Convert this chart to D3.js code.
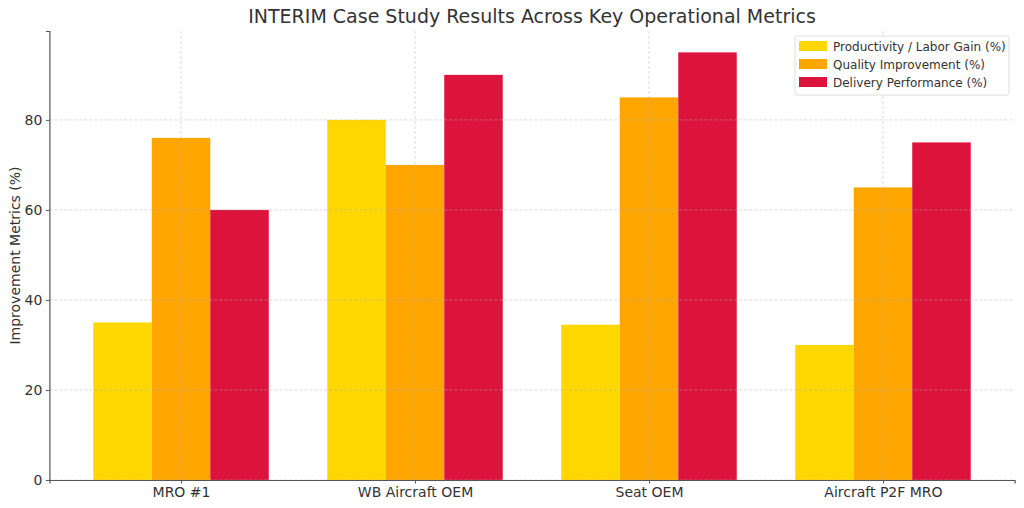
<!DOCTYPE html>
<html>
<head>
<meta charset="utf-8">
<script src="https://cdn.jsdelivr.net/npm/d3@7"></script>
<style>
  body { margin: 0; background: #fff; }
  text { font-family: "DejaVu Sans", sans-serif; }
</style>
</head>
<body>
<svg id="chart" width="1024" height="508"></svg>
<script>
const categories = ['MRO #1', 'WB Aircraft OEM', 'Seat OEM', 'Aircraft P2F MRO'];
const seriesNames = ['Productivity / Labor Gain (%)', 'Quality Improvement (%)', 'Delivery Performance (%)'];
const productivity = [35, 80, 34.5, 30];
const quality = [76, 70, 85, 65];
const delivery = [60, 90, 95, 75];
const yTicks = [0, 20, 40, 60, 80];
const colors = ['#FFD700', '#FFA500', '#DC143C'];

const seriesValues = [productivity, quality, delivery];

const svg = d3.select('#chart');
const margin = { top: 31, right: 9.4, bottom: 28, left: 49.4 };
const width = 1024 - margin.left - margin.right;
const height = 508 - margin.top - margin.bottom;
const g = svg.append('g').attr('transform', `translate(${margin.left},${margin.top})`);

// matplotlib style: bar width 0.25, margins 5%
const barW = 0.25;
const x = d3.scaleLinear().domain([-0.5625, categories.length - 1 + 0.5625]).range([0, width]);
const y = d3.scaleLinear().domain([0, 99.75]).range([height, 0]);

// bars
seriesValues.forEach((vals, si) => {
  g.selectAll('.bar-' + si)
    .data(vals)
    .enter()
    .append('rect')
    .attr('x', (d, i) => x(i + (si - 1) * barW - barW / 2))
    .attr('width', x(barW) - x(0))
    .attr('y', d => y(d))
    .attr('height', d => y(0) - y(d))
    .attr('fill', colors[si]);
});

// grid on top of bars
g.append('g')
  .selectAll('line')
  .data(yTicks)
  .enter().append('line')
  .attr('x1', 0).attr('x2', width)
  .attr('y1', d => y(d)).attr('y2', d => y(d))
  .attr('stroke', '#b0b0b0').attr('stroke-opacity', 0.6)
  .attr('stroke-dasharray', '3,2').attr('stroke-width', 0.8);

g.append('g')
  .selectAll('line')
  .data(categories)
  .enter().append('line')
  .attr('x1', (d, i) => x(i)).attr('x2', (d, i) => x(i))
  .attr('y1', 0).attr('y2', height)
  .attr('stroke', '#b0b0b0').attr('stroke-opacity', 0.6)
  .attr('stroke-dasharray', '3,2').attr('stroke-width', 0.8);

// axes
const yAxis = d3.axisLeft(y).tickValues(yTicks).tickSize(3.5).tickPadding(3.5);
g.append('g')
  .call(yAxis)
  .call(a => {
    a.select('.domain').attr('stroke', '#555').attr('stroke-width', 1.2);
    a.selectAll('.tick line').attr('stroke', '#555');
    a.selectAll('.tick text').attr('fill', '#333').attr('font-size', '14px')
      .attr('font-family', '"DejaVu Sans", sans-serif');
  });

const xAxis = d3.axisBottom(x).tickValues(d3.range(categories.length))
  .tickFormat(i => categories[i]).tickSize(3.5).tickPadding(3.5);
g.append('g')
  .attr('transform', `translate(0,${height})`)
  .call(xAxis)
  .call(a => {
    a.select('.domain').attr('stroke', '#555').attr('stroke-width', 1.2);
    a.selectAll('.tick line').attr('stroke', '#555');
    a.selectAll('.tick text').attr('fill', '#333').attr('font-size', '14px')
      .attr('font-family', '"DejaVu Sans", sans-serif');
  });

// title
svg.append('text')
  .attr('x', margin.left + width / 2)
  .attr('y', 23)
  .attr('text-anchor', 'middle')
  .attr('font-size', '19px')
  .attr('fill', '#333')
  .text('INTERIM Case Study Results Across Key Operational Metrics');

// y label
svg.append('text')
  .attr('transform', `translate(20,${margin.top + height / 2}) rotate(-90)`)
  .attr('text-anchor', 'middle')
  .attr('font-size', '14px')
  .attr('fill', '#333')
  .text('Improvement Metrics (%)');

// legend
const legend = svg.append('g').attr('transform', 'translate(795,36)');
legend.append('rect')
  .attr('width', 214).attr('height', 59).attr('rx', 2)
  .attr('fill', '#fff').attr('fill-opacity', 0.8)
  .attr('stroke', '#ddd');
seriesNames.forEach((name, i) => {
  const row = legend.append('g').attr('transform', `translate(0,${10 + i * 18})`);
  row.append('rect').attr('x', 4).attr('y', -5).attr('width', 28).attr('height', 10).attr('fill', colors[i]);
  row.append('text').attr('x', 38).attr('y', 4.5).attr('font-size', '12px').attr('fill', '#333').text(name);
});
</script>
</body>
</html>
